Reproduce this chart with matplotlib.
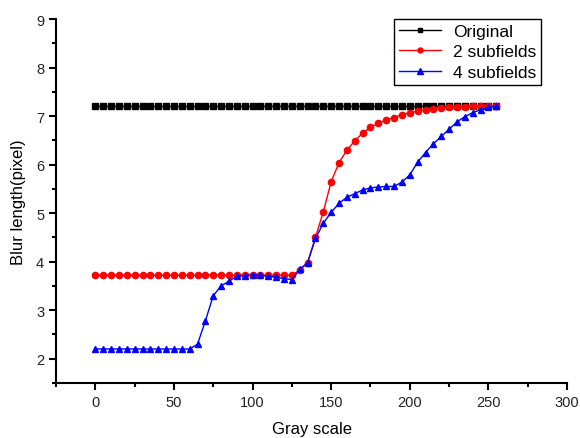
import matplotlib
matplotlib.use("Agg")
import matplotlib.pyplot as plt
from matplotlib.ticker import MultipleLocator

plt.rcParams['font.family'] = ['Liberation Sans', 'DejaVu Sans']

# gray levels, step 5
gray = list(range(0, 256, 5))

original = [7.2] * len(gray)

sub2 = [3.72] * 26 + [3.83, 3.98, 4.5, 5.03, 5.65, 6.04, 6.3, 6.49, 6.65, 6.77,
                      6.85, 6.92, 6.97, 7.03, 7.07, 7.10, 7.13, 7.15, 7.17, 7.18,
                      7.19, 7.19, 7.2, 7.2, 7.2, 7.2]

sub4 = [2.2] * 13 + [2.3, 2.78, 3.3, 3.5, 3.6, 3.7, 3.71, 3.73, 3.72, 3.7, 3.68,
                     3.65, 3.63, 3.84, 3.98, 4.48, 4.79, 5.02, 5.2, 5.33, 5.4,
                     5.48, 5.52, 5.54, 5.55, 5.55, 5.64, 5.79, 6.05, 6.25, 6.43,
                     6.58, 6.73, 6.88, 6.99, 7.07, 7.13, 7.18, 7.2]

fig = plt.figure(figsize=(5.8, 4.39), dpi=100)
ax = fig.add_axes([0.0966, 0.1253, 0.881, 0.829])

ax.plot(gray, original, color="black", marker="s", markersize=4, linewidth=1,
        label="Original")
ax.plot(gray, sub2, color="red", marker="o", markersize=4.5, linewidth=1,
        label="2 subfields")
ax.plot(gray, sub4, color="blue", marker="^", markersize=5, linewidth=1,
        label="4 subfields")

ax.set_xlim(-25, 300)
ax.set_ylim(1.5, 9)
ax.xaxis.set_major_locator(MultipleLocator(50))
ax.xaxis.set_minor_locator(MultipleLocator(25))
ax.yaxis.set_major_locator(MultipleLocator(1))
ax.yaxis.set_minor_locator(MultipleLocator(0.5))

for s in ["top", "right"]:
    ax.spines[s].set_visible(False)
for s in ["left", "bottom"]:
    ax.spines[s].set_linewidth(1.5)

ax.tick_params(which="major", direction="out", length=5, width=1.5,
               labelsize=10.5, labelcolor="#222222")
ax.tick_params(which="minor", direction="out", length=3, width=1.5)

ax.set_xlabel("Gray scale", fontsize=12, labelpad=9)
ax.set_ylabel("Blur length(pixel)", fontsize=12, labelpad=7)

leg = ax.legend(loc="upper right", bbox_to_anchor=(0.948, 0.975),
                bbox_transform=fig.transFigure, fontsize=12.5, frameon=True,
                fancybox=False, edgecolor="black", framealpha=1,
                handlelength=2.4, borderpad=0.3, labelspacing=0.3,
                handletextpad=0.7, markerscale=0.8)
leg.get_frame().set_linewidth(1)

fig.savefig("out.png", dpi=100)
